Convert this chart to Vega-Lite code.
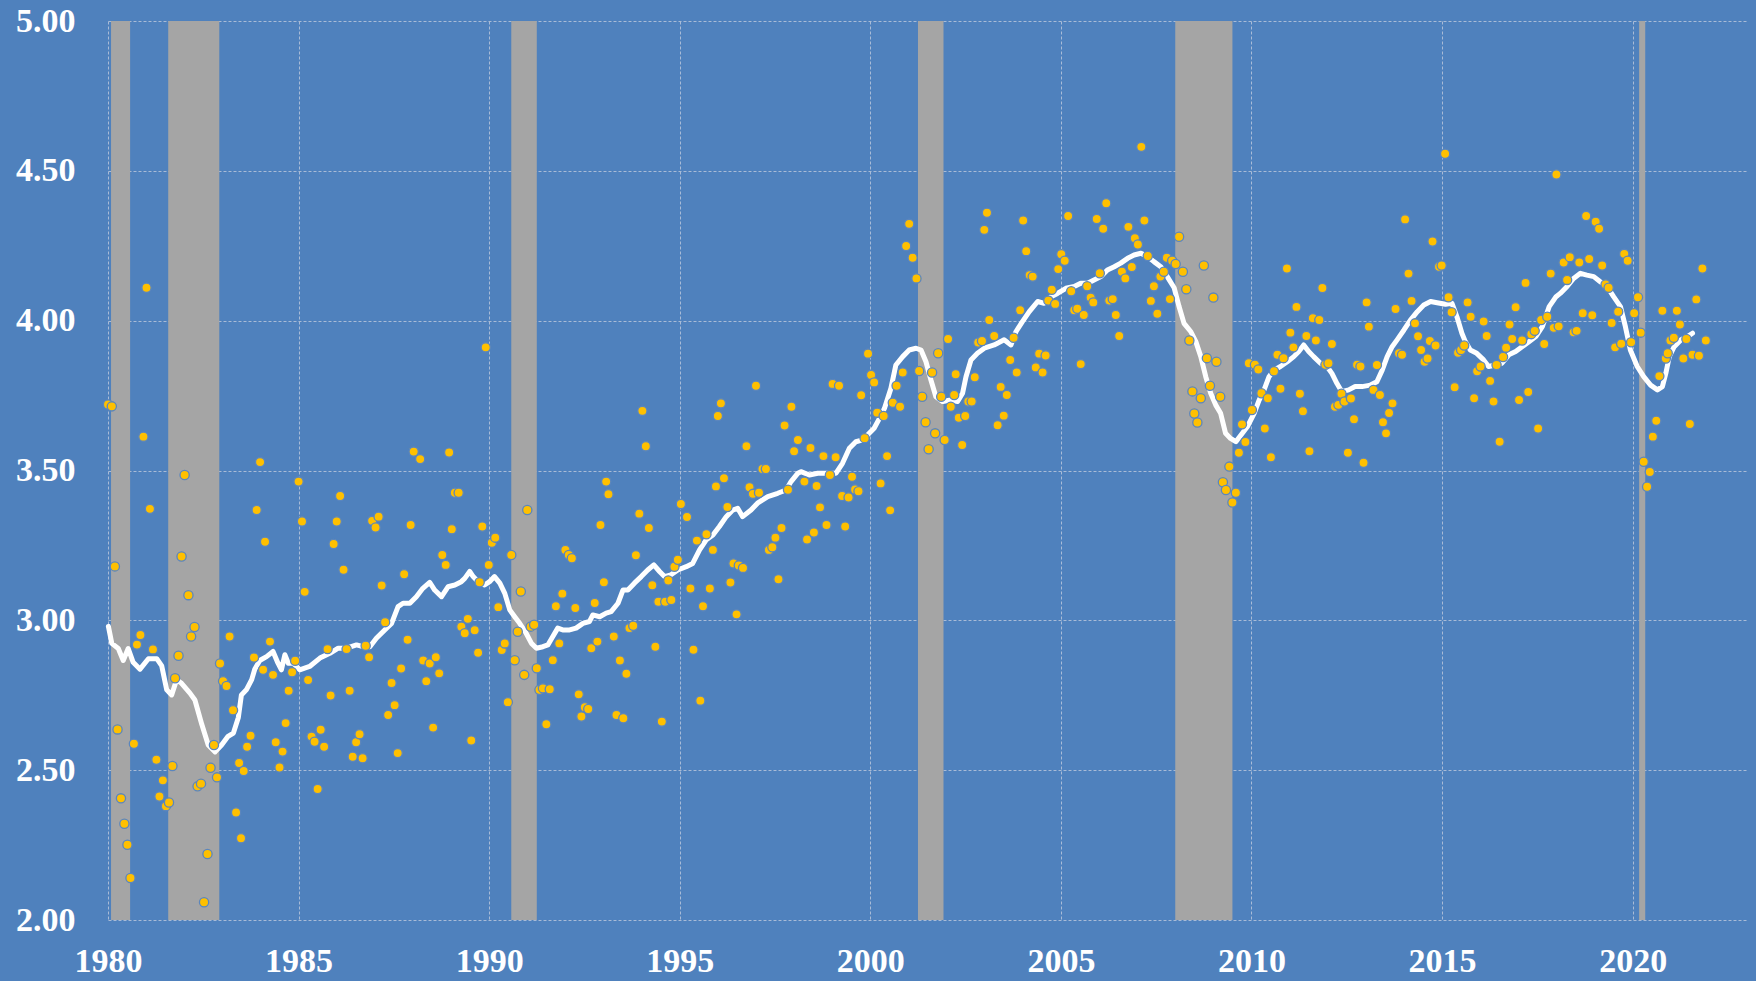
{
"$schema": "https://vega.github.io/schema/vega-lite/v6.json",
"width": 1639, "height": 899,
"autosize": {"type": "none"},
"padding": {"left": 108, "top": 21, "right": 9, "bottom": 61},
"background": "#4F81BD",
"config": {"view": {"stroke": null, "fill": "#4F81BD"}},
"datasets": {
"bands": [{"s":1980.08,"e":1980.58},{"s":1981.58,"e":1982.92},{"s":1990.58,"e":1991.25},{"s":2001.25,"e":2001.92},{"s":2008.0,"e":2009.5},{"s":2020.17,"e":2020.33}],
"avg": [
{"t":1980.01,"v":2.98},{"t":1980.1,"v":2.923},{"t":1980.27,"v":2.906},{"t":1980.4,"v":2.866},{"t":1980.53,"v":2.906},{"t":1980.66,"v":2.86},{"t":1980.84,"v":2.837},{"t":1981.06,"v":2.872},{"t":1981.28,"v":2.872},{"t":1981.41,"v":2.848},{"t":1981.54,"v":2.768},{"t":1981.67,"v":2.751},{"t":1981.8,"v":2.802},{"t":1981.93,"v":2.79},{"t":1982.15,"v":2.757},{"t":1982.28,"v":2.734},{"t":1982.46,"v":2.653},{"t":1982.63,"v":2.584},{"t":1982.81,"v":2.561},{"t":1982.98,"v":2.584},{"t":1983.15,"v":2.613},{"t":1983.29,"v":2.624},{"t":1983.42,"v":2.676},{"t":1983.5,"v":2.751},{"t":1983.63,"v":2.768},{"t":1983.77,"v":2.802},{"t":1983.85,"v":2.837},{"t":1983.98,"v":2.866},
{"t":1984.16,"v":2.879},{"t":1984.33,"v":2.896},{"t":1984.46,"v":2.857},{"t":1984.55,"v":2.835},{"t":1984.64,"v":2.885},{"t":1984.73,"v":2.857},{"t":1984.86,"v":2.857},{"t":1985.03,"v":2.835},{"t":1985.29,"v":2.846},{"t":1985.56,"v":2.874},{"t":1985.82,"v":2.89},{"t":1986.04,"v":2.907},{"t":1986.26,"v":2.907},{"t":1986.52,"v":2.918},{"t":1986.69,"v":2.912},{"t":1986.87,"v":2.912},{"t":1987.04,"v":2.94},{"t":1987.26,"v":2.968},{"t":1987.44,"v":2.99},{"t":1987.61,"v":3.046},{"t":1987.74,"v":3.057},{"t":1987.92,"v":3.057},{"t":1988.09,"v":3.079},{"t":1988.26,"v":3.107},{"t":1988.44,"v":3.127},{"t":1988.57,"v":3.101},{"t":1988.75,"v":3.079},{"t":1988.92,"v":3.112},{"t":1989.1,"v":3.118},{"t":1989.27,"v":3.129},{"t":1989.36,"v":3.14},{"t":1989.49,"v":3.163},{"t":1989.58,"v":3.146},{"t":1989.71,"v":3.129},{"t":1989.88,"v":3.118},{"t":1990.01,"v":3.129},{"t":1990.14,"v":3.146},{"t":1990.28,"v":3.124},{"t":1990.41,"v":3.09},{"t":1990.54,"v":3.035},{"t":1990.67,"v":3.012},{"t":1990.8,"v":2.99},{"t":1990.97,"v":2.957},{"t":1991.11,"v":2.923},{"t":1991.24,"v":2.907},{"t":1991.41,"v":2.912},{"t":1991.54,"v":2.918},{"t":1991.67,"v":2.946},{"t":1991.8,"v":2.974},{"t":1991.93,"v":2.968},{"t":1992.11,"v":2.968},{"t":1992.28,"v":2.974},{"t":1992.46,"v":2.99},{"t":1992.63,"v":2.996},{"t":1992.72,"v":3.018},{"t":1992.9,"v":3.012},{"t":1993.07,"v":3.024},
{"t":1993.2,"v":3.029},{"t":1993.38,"v":3.057},{"t":1993.51,"v":3.101},{"t":1993.64,"v":3.101},{"t":1993.81,"v":3.124},{"t":1993.99,"v":3.146},{"t":1994.16,"v":3.168},{"t":1994.32,"v":3.185},{"t":1994.47,"v":3.163},{"t":1994.6,"v":3.146},{"t":1994.77,"v":3.152},{"t":1994.95,"v":3.168},{"t":1995.17,"v":3.179},{"t":1995.34,"v":3.19},{"t":1995.52,"v":3.235},{"t":1995.69,"v":3.268},{"t":1995.87,"v":3.285},{"t":1996.04,"v":3.313},{"t":1996.22,"v":3.346},{"t":1996.39,"v":3.368},{"t":1996.52,"v":3.374},{"t":1996.65,"v":3.346},{"t":1996.87,"v":3.368},{"t":1997.04,"v":3.391},{"t":1997.31,"v":3.413},{"t":1997.57,"v":3.424},{"t":1997.79,"v":3.435},{"t":1997.92,"v":3.463},{"t":1998.1,"v":3.491},
{"t":1998.18,"v":3.496},{"t":1998.4,"v":3.485},{"t":1998.62,"v":3.491},{"t":1998.88,"v":3.491},{"t":1999.1,"v":3.491},{"t":1999.27,"v":3.524},{"t":1999.45,"v":3.574},{"t":1999.62,"v":3.596},{"t":1999.8,"v":3.602},{"t":1999.97,"v":3.624},{"t":2000.1,"v":3.641},{"t":2000.24,"v":3.674},{"t":2000.37,"v":3.707},{"t":2000.54,"v":3.774},{"t":2000.67,"v":3.852},{"t":2000.85,"v":3.88},{"t":2001.02,"v":3.902},{"t":2001.2,"v":3.908},{"t":2001.33,"v":3.902},{"t":2001.46,"v":3.863},{"t":2001.59,"v":3.802},{"t":2001.72,"v":3.746},{"t":2001.9,"v":3.73},{"t":2002.11,"v":3.735},{"t":2002.29,"v":3.73},{"t":2002.42,"v":3.758},{"t":2002.51,"v":3.813},{"t":2002.64,"v":3.869},{"t":2002.81,"v":3.891},{"t":2002.99,"v":3.908},
{"t":2003.25,"v":3.919},{"t":2003.51,"v":3.936},{"t":2003.69,"v":3.919},{"t":2003.82,"v":3.963},{"t":2003.99,"v":3.997},{"t":2004.17,"v":4.03},{"t":2004.39,"v":4.064},{"t":2004.56,"v":4.058},{"t":2004.74,"v":4.08},{"t":2004.91,"v":4.091},{"t":2005.13,"v":4.108},{"t":2005.35,"v":4.114},{"t":2005.52,"v":4.125},{"t":2005.7,"v":4.125},{"t":2005.87,"v":4.136},{"t":2006.05,"v":4.147},{"t":2006.22,"v":4.169},{"t":2006.4,"v":4.18},{"t":2006.57,"v":4.192},{"t":2006.75,"v":4.208},{"t":2006.92,"v":4.219},{"t":2007.1,"v":4.225},{"t":2007.27,"v":4.214},{"t":2007.44,"v":4.197},{"t":2007.62,"v":4.18},{"t":2007.79,"v":4.147},{"t":2007.97,"v":4.11},
{"t":2008.1,"v":4.047},{"t":2008.23,"v":3.991},{"t":2008.41,"v":3.963},{"t":2008.54,"v":3.93},{"t":2008.67,"v":3.88},{"t":2008.8,"v":3.813},{"t":2008.93,"v":3.758},{"t":2009.06,"v":3.719},{"t":2009.19,"v":3.691},{"t":2009.32,"v":3.624},{"t":2009.45,"v":3.607},{"t":2009.59,"v":3.596},{"t":2009.72,"v":3.618},{"t":2009.89,"v":3.646},{"t":2010.07,"v":3.691},{"t":2010.2,"v":3.735},{"t":2010.33,"v":3.769},{"t":2010.46,"v":3.813},{"t":2010.59,"v":3.835},{"t":2010.76,"v":3.847},{"t":2010.94,"v":3.863},{"t":2011.11,"v":3.88},{"t":2011.24,"v":3.897},{"t":2011.37,"v":3.919},{"t":2011.5,"v":3.897},{"t":2011.63,"v":3.88},{"t":2011.81,"v":3.858},{"t":2011.98,"v":3.847},{"t":2012.11,"v":3.824},{"t":2012.24,"v":3.791},{"t":2012.37,"v":3.763},{"t":2012.55,"v":3.769},{"t":2012.72,"v":3.78},{"t":2012.9,"v":3.78},
{"t":2013.12,"v":3.785},{"t":2013.29,"v":3.796},{"t":2013.43,"v":3.835},{"t":2013.56,"v":3.88},{"t":2013.69,"v":3.913},{"t":2013.82,"v":3.936},{"t":2014.0,"v":3.969},{"t":2014.17,"v":4.002},{"t":2014.35,"v":4.03},{"t":2014.52,"v":4.052},{"t":2014.7,"v":4.064},{"t":2014.87,"v":4.06},{"t":2015.09,"v":4.055},{"t":2015.26,"v":4.058},{"t":2015.39,"v":4.013},{"t":2015.52,"v":3.958},{"t":2015.61,"v":3.93},{"t":2015.74,"v":3.902},{"t":2015.91,"v":3.891},{"t":2016.09,"v":3.869},{"t":2016.22,"v":3.847},{"t":2016.4,"v":3.852},{"t":2016.57,"v":3.858},{"t":2016.75,"v":3.886},{"t":2016.93,"v":3.897},{"t":2017.1,"v":3.913},{"t":2017.28,"v":3.93},{"t":2017.46,"v":3.947},{"t":2017.63,"v":3.98},{"t":2017.81,"v":4.047},{"t":2017.99,"v":4.08},
{"t":2018.1,"v":4.091},{"t":2018.28,"v":4.114},{"t":2018.45,"v":4.141},{"t":2018.63,"v":4.158},{"t":2018.8,"v":4.152},{"t":2018.98,"v":4.147},{"t":2019.15,"v":4.13},{"t":2019.33,"v":4.114},{"t":2019.5,"v":4.08},{"t":2019.68,"v":4.047},{"t":2019.81,"v":3.98},{"t":2019.94,"v":3.902},{"t":2020.12,"v":3.847},{"t":2020.29,"v":3.813},{"t":2020.47,"v":3.785},{"t":2020.65,"v":3.769},{"t":2020.78,"v":3.78},{"t":2020.87,"v":3.824},{"t":2020.96,"v":3.88},{"t":2021.09,"v":3.913},{"t":2021.27,"v":3.936},{"t":2021.44,"v":3.947},{"t":2021.57,"v":3.958}
],
"dots": [
{"t":1980.0,"v":3.72},{"t":1980.1,"v":3.714},{"t":1980.18,"v":3.18},{"t":1980.25,"v":2.636},{"t":1980.34,"v":2.406},{"t":1980.43,"v":2.321},{"t":1980.51,"v":2.251},{"t":1980.59,"v":2.14},{"t":1980.68,"v":2.588},{"t":1980.76,"v":2.919},{"t":1980.85,"v":2.951},{"t":1980.93,"v":3.613},{"t":1981.01,"v":4.11},{"t":1981.1,"v":3.372},{"t":1981.18,"v":2.903},{"t":1981.27,"v":2.535},{"t":1981.35,"v":2.412},{"t":1981.44,"v":2.466},{"t":1981.52,"v":2.38},{"t":1981.6,"v":2.392},{"t":1981.69,"v":2.514},{"t":1981.76,"v":2.807},{"t":1981.85,"v":2.882},{"t":1981.93,"v":3.213},{"t":1982.01,"v":3.485},{"t":1982.11,"v":3.084},{"t":1982.18,"v":2.946},{"t":1982.27,"v":2.978},{"t":1982.35,"v":2.446},{"t":1982.44,"v":2.455},{"t":1982.52,"v":2.059},{"t":1982.61,"v":2.22},{"t":1982.69,"v":2.508},{"t":1982.78,"v":2.584},{"t":1982.86,"v":2.476},{"t":1982.94,"v":2.856},{"t":1983.02,"v":2.797},{"t":1983.11,"v":2.781},{"t":1983.19,"v":2.946},{"t":1983.28,"v":2.7},{"t":1983.36,"v":2.359},{"t":1983.44,"v":2.524},{"t":1983.49,"v":2.273},{"t":1983.56,"v":2.497},{"t":1983.65,"v":2.578},{"t":1983.74,"v":2.615},{"t":1983.83,"v":2.876},{"t":1983.9,"v":3.368},{"t":1983.99,"v":3.528},{"t":1984.07,"v":2.835},{"t":1984.12,"v":3.262},
{"t":1984.25,"v":2.929},{"t":1984.33,"v":2.818},{"t":1984.4,"v":2.593},{"t":1984.5,"v":2.509},{"t":1984.58,"v":2.562},{"t":1984.66,"v":2.657},{"t":1984.74,"v":2.765},{"t":1984.83,"v":2.827},{"t":1984.91,"v":2.865},{"t":1985.0,"v":3.463},{"t":1985.09,"v":3.33},{"t":1985.16,"v":3.095},{"t":1985.25,"v":2.801},{"t":1985.34,"v":2.612},{"t":1985.42,"v":2.595},{"t":1985.5,"v":2.437},{"t":1985.58,"v":2.635},{"t":1985.67,"v":2.578},{"t":1985.76,"v":2.904},{"t":1985.84,"v":2.749},{"t":1985.92,"v":3.255},{"t":1986.0,"v":3.33},{"t":1986.09,"v":3.415},{"t":1986.18,"v":3.169},{"t":1986.26,"v":2.904},{"t":1986.34,"v":2.765},{"t":1986.42,"v":2.545},{"t":1986.51,"v":2.593},{"t":1986.6,"v":2.62},{"t":1986.68,"v":2.54},{"t":1986.76,"v":2.915},{"t":1986.85,"v":2.877},{"t":1986.93,"v":3.332},{"t":1987.02,"v":3.31},{"t":1987.1,"v":3.346},{"t":1987.18,"v":3.116},{"t":1987.27,"v":2.994},{"t":1987.35,"v":2.684},{"t":1987.44,"v":2.791},{"t":1987.52,"v":2.717},{"t":1987.6,"v":2.557},{"t":1987.69,"v":2.839},{"t":1987.77,"v":3.154},{"t":1987.86,"v":2.935},{"t":1987.94,"v":3.318},{"t":1988.02,"v":3.563},{"t":1988.19,"v":3.538},{"t":1988.27,"v":2.866},{"t":1988.35,"v":2.797},{"t":1988.44,"v":2.856},{"t":1988.53,"v":2.642},{"t":1988.6,"v":2.877},{"t":1988.69,"v":2.823},{"t":1988.77,"v":3.218},{"t":1988.86,"v":3.185},{"t":1988.95,"v":3.56},{"t":1989.02,"v":3.304},{"t":1989.1,"v":3.426},{"t":1989.2,"v":3.426},{"t":1989.27,"v":2.979},{"t":1989.36,"v":2.957},{"t":1989.44,"v":3.005},{"t":1989.53,"v":2.599},{"t":1989.62,"v":2.967},{"t":1989.71,"v":2.892},{"t":1989.75,"v":3.127},{"t":1989.82,"v":3.313},{"t":1989.91,"v":3.911},{"t":1989.99,"v":3.185},{"t":1990.07,"v":3.259},{"t":1990.16,"v":3.276},{"t":1990.24,"v":3.044},{"t":1990.33,"v":2.901},{"t":1990.41,"v":2.923},{"t":1990.49,"v":2.727},{"t":1990.58,"v":3.218},{"t":1990.67,"v":2.867},{"t":1990.75,"v":2.962},{"t":1990.83,"v":3.096},{"t":1990.92,"v":2.818},{"t":1991.0,"v":3.368},{"t":1991.09,"v":2.979},{"t":1991.18,"v":2.985},{"t":1991.25,"v":2.84},{"t":1991.32,"v":2.768},{"t":1991.41,"v":2.773},{"t":1991.5,"v":2.653},{"t":1991.59,"v":2.77},{"t":1991.67,"v":2.867},{"t":1991.75,"v":3.047},{"t":1991.84,"v":2.923},{"t":1991.92,"v":3.089},{"t":1992.0,"v":3.235},{"t":1992.09,"v":3.218},{"t":1992.17,"v":3.207},{"t":1992.26,"v":3.041},{"t":1992.35,"v":2.753},{"t":1992.42,"v":2.679},{"t":1992.51,"v":2.71},{"t":1992.6,"v":2.704},{"t":1992.68,"v":2.907},{"t":1992.77,"v":3.058},{"t":1992.84,"v":2.929},{"t":1992.92,"v":3.318},{"t":1993.01,"v":3.127},{"t":1993.07,"v":3.463},{"t":1993.13,"v":3.421},
{"t":1993.27,"v":2.946},{"t":1993.34,"v":2.684},{"t":1993.43,"v":2.866},{"t":1993.52,"v":2.673},{"t":1993.6,"v":2.822},{"t":1993.68,"v":2.974},{"t":1993.78,"v":2.982},{"t":1993.85,"v":3.217},{"t":1993.94,"v":3.356},{"t":1994.02,"v":3.699},{"t":1994.11,"v":3.581},{"t":1994.19,"v":3.308},{"t":1994.28,"v":3.117},{"t":1994.36,"v":2.912},{"t":1994.44,"v":3.062},{"t":1994.53,"v":2.662},{"t":1994.62,"v":3.062},{"t":1994.7,"v":3.133},{"t":1994.78,"v":3.068},{"t":1994.86,"v":3.179},{"t":1994.95,"v":3.202},{"t":1995.03,"v":3.388},{"t":1995.19,"v":3.345},{"t":1995.28,"v":3.106},{"t":1995.36,"v":2.902},{"t":1995.45,"v":3.266},{"t":1995.54,"v":2.732},{"t":1995.61,"v":3.047},{"t":1995.7,"v":3.287},{"t":1995.79,"v":3.106},{"t":1995.87,"v":3.235},{"t":1995.95,"v":3.447},{"t":1996.0,"v":3.682},{"t":1996.08,"v":3.724},{"t":1996.16,"v":3.474},{"t":1996.25,"v":3.378},{"t":1996.33,"v":3.126},{"t":1996.41,"v":3.19},{"t":1996.49,"v":3.02},{"t":1996.55,"v":3.183},{"t":1996.66,"v":3.175},{"t":1996.75,"v":3.581},{"t":1996.83,"v":3.444},{"t":1996.92,"v":3.422},{"t":1997.0,"v":3.783},{"t":1997.08,"v":3.426},{"t":1997.17,"v":3.505},{"t":1997.26,"v":3.505},{"t":1997.34,"v":3.235},{"t":1997.43,"v":3.244},{"t":1997.51,"v":3.276},{"t":1997.59,"v":3.137},{"t":1997.67,"v":3.308},{"t":1997.75,"v":3.65},{"t":1997.84,"v":3.436},{"t":1997.93,"v":3.713},{"t":1998.0,"v":3.564},{"t":1998.1,"v":3.602},
{"t":1998.27,"v":3.463},{"t":1998.34,"v":3.27},{"t":1998.43,"v":3.575},{"t":1998.52,"v":3.293},{"t":1998.59,"v":3.448},{"t":1998.68,"v":3.377},{"t":1998.77,"v":3.548},{"t":1998.85,"v":3.318},{"t":1998.94,"v":3.485},{"t":1999.01,"v":3.789},{"t":1999.09,"v":3.544},{"t":1999.18,"v":3.783},{"t":1999.26,"v":3.415},{"t":1999.34,"v":3.313},{"t":1999.43,"v":3.41},{"t":1999.52,"v":3.479},{"t":1999.6,"v":3.437},{"t":1999.69,"v":3.431},{"t":1999.76,"v":3.751},{"t":1999.85,"v":3.608},{"t":1999.94,"v":3.89},{"t":2000.02,"v":3.819},{"t":2000.1,"v":3.794},{"t":2000.18,"v":3.693},{"t":2000.27,"v":3.457},{"t":2000.35,"v":3.682},{"t":2000.44,"v":3.548},{"t":2000.52,"v":3.367},{"t":2000.59,"v":3.726},{"t":2000.69,"v":3.783},{"t":2000.78,"v":3.713},{"t":2000.85,"v":3.827},{"t":2000.94,"v":4.249},{"t":2001.02,"v":4.323},{"t":2001.11,"v":4.21},{"t":2001.21,"v":4.141},{"t":2001.28,"v":3.832},{"t":2001.36,"v":3.746},{"t":2001.45,"v":3.661},{"t":2001.53,"v":3.571},{"t":2001.62,"v":3.827},{"t":2001.7,"v":3.624},{"t":2001.78,"v":3.891},{"t":2001.86,"v":3.746},{"t":2001.95,"v":3.602},{"t":2002.04,"v":3.939},{"t":2002.11,"v":3.713},{"t":2002.2,"v":3.752},{"t":2002.24,"v":3.821},{"t":2002.32,"v":3.676},{"t":2002.41,"v":3.585},{"t":2002.49,"v":3.682},{"t":2002.57,"v":3.73},{"t":2002.66,"v":3.73},{"t":2002.74,"v":3.811},{"t":2002.83,"v":3.927},{"t":2002.93,"v":3.932},{"t":2002.99,"v":4.303},{"t":2003.06,"v":4.36},{"t":2003.12,"v":4.002},
{"t":2003.25,"v":3.949},{"t":2003.34,"v":3.651},{"t":2003.42,"v":3.779},{"t":2003.5,"v":3.683},{"t":2003.58,"v":3.752},{"t":2003.67,"v":3.869},{"t":2003.76,"v":3.943},{"t":2003.84,"v":3.827},{"t":2003.93,"v":4.035},{"t":2004.01,"v":4.334},{"t":2004.09,"v":4.232},{"t":2004.18,"v":4.152},{"t":2004.26,"v":4.147},{"t":2004.34,"v":3.844},{"t":2004.43,"v":3.89},{"t":2004.52,"v":3.827},{"t":2004.6,"v":3.884},{"t":2004.67,"v":4.067},{"t":2004.76,"v":4.103},{"t":2004.85,"v":4.056},{"t":2004.93,"v":4.172},{"t":2005.01,"v":4.222},{"t":2005.1,"v":4.2},{"t":2005.19,"v":4.349},{"t":2005.27,"v":4.098},{"t":2005.35,"v":4.035},{"t":2005.43,"v":4.04},{"t":2005.52,"v":3.855},{"t":2005.6,"v":4.019},{"t":2005.69,"v":4.115},{"t":2005.78,"v":4.077},{"t":2005.85,"v":4.061},{"t":2005.94,"v":4.339},{"t":2006.02,"v":4.158},{"t":2006.11,"v":4.307},{"t":2006.19,"v":4.392},{"t":2006.27,"v":4.067},{"t":2006.36,"v":4.072},{"t":2006.44,"v":4.019},{"t":2006.53,"v":3.949},{"t":2006.6,"v":4.163},{"t":2006.69,"v":4.141},{"t":2006.77,"v":4.313},{"t":2006.86,"v":4.179},{"t":2006.94,"v":4.275},{"t":2007.02,"v":4.254},{"t":2007.11,"v":4.58},{"t":2007.19,"v":4.334},{"t":2007.28,"v":4.216},{"t":2007.36,"v":4.066},{"t":2007.44,"v":4.115},{"t":2007.53,"v":4.023},{"t":2007.61,"v":4.147},{"t":2007.7,"v":4.163},{"t":2007.78,"v":4.21},{"t":2007.86,"v":4.072},{"t":2007.92,"v":4.2},{"t":2008.01,"v":4.189},{"t":2008.1,"v":4.28},
{"t":2008.2,"v":4.163},{"t":2008.29,"v":4.105},{"t":2008.37,"v":3.934},{"t":2008.45,"v":3.764},{"t":2008.5,"v":3.69},{"t":2008.58,"v":3.66},{"t":2008.67,"v":3.741},{"t":2008.75,"v":4.184},{"t":2008.83,"v":3.875},{"t":2008.91,"v":3.783},{"t":2009.0,"v":4.077},{"t":2009.08,"v":3.863},{"t":2009.18,"v":3.746},{"t":2009.25,"v":3.461},{"t":2009.33,"v":3.435},{"t":2009.42,"v":3.513},{"t":2009.5,"v":3.393},{"t":2009.59,"v":3.426},{"t":2009.67,"v":3.559},{"t":2009.75,"v":3.654},{"t":2009.84,"v":3.595},{"t":2009.93,"v":3.858},{"t":2010.01,"v":3.702},{"t":2010.09,"v":3.853},{"t":2010.18,"v":3.837},{"t":2010.26,"v":3.758},{"t":2010.35,"v":3.64},{"t":2010.43,"v":3.741},{"t":2010.51,"v":3.544},{"t":2010.59,"v":3.831},{"t":2010.68,"v":3.886},{"t":2010.76,"v":3.773},{"t":2010.84,"v":3.875},{"t":2010.93,"v":4.174},{"t":2011.02,"v":3.96},{"t":2011.1,"v":3.911},{"t":2011.18,"v":4.046},{"t":2011.27,"v":3.756},{"t":2011.35,"v":3.698},{"t":2011.44,"v":3.949},{"t":2011.52,"v":3.564},{"t":2011.61,"v":4.008},{"t":2011.69,"v":3.934},{"t":2011.78,"v":4.002},{"t":2011.86,"v":4.109},{"t":2011.94,"v":3.853},{"t":2012.02,"v":3.858},{"t":2012.11,"v":3.922},{"t":2012.19,"v":3.713},{"t":2012.28,"v":3.719},{"t":2012.36,"v":3.756},{"t":2012.44,"v":3.73},{"t":2012.53,"v":3.559},{"t":2012.61,"v":3.74},{"t":2012.69,"v":3.671},{"t":2012.77,"v":3.853},{"t":2012.86,"v":3.847},{"t":2012.94,"v":3.526},{"t":2013.02,"v":4.061},{"t":2013.08,"v":3.98},
{"t":2013.2,"v":3.769},{"t":2013.29,"v":3.852},{"t":2013.37,"v":3.752},{"t":2013.45,"v":3.661},{"t":2013.53,"v":3.624},{"t":2013.61,"v":3.692},{"t":2013.7,"v":3.724},{"t":2013.78,"v":4.039},{"t":2013.87,"v":3.891},{"t":2013.95,"v":3.886},{"t":2014.03,"v":4.338},{"t":2014.12,"v":4.157},{"t":2014.2,"v":4.066},{"t":2014.29,"v":3.991},{"t":2014.37,"v":3.948},{"t":2014.45,"v":3.902},{"t":2014.54,"v":3.863},{"t":2014.62,"v":3.874},{"t":2014.68,"v":3.932},{"t":2014.75,"v":4.264},{"t":2014.83,"v":3.917},{"t":2014.92,"v":4.18},{"t":2014.99,"v":4.184},{"t":2015.08,"v":4.557},{"t":2015.17,"v":4.078},{"t":2015.25,"v":4.028},{"t":2015.33,"v":3.778},{"t":2015.42,"v":3.893},{"t":2015.5,"v":3.902},{"t":2015.58,"v":3.917},{"t":2015.67,"v":4.061},{"t":2015.75,"v":4.013},{"t":2015.84,"v":3.741},{"t":2015.92,"v":3.831},{"t":2016.01,"v":3.847},{"t":2016.09,"v":3.997},{"t":2016.17,"v":3.949},{"t":2016.26,"v":3.799},{"t":2016.35,"v":3.73},{"t":2016.43,"v":3.852},{"t":2016.51,"v":3.596},{"t":2016.6,"v":3.879},{"t":2016.68,"v":3.91},{"t":2016.77,"v":3.987},{"t":2016.84,"v":3.939},{"t":2016.93,"v":4.045},{"t":2017.02,"v":3.735},{"t":2017.1,"v":3.934},{"t":2017.19,"v":4.126},{"t":2017.26,"v":3.762},{"t":2017.34,"v":3.955},{"t":2017.43,"v":3.966},{"t":2017.52,"v":3.64},{"t":2017.6,"v":4.002},{"t":2017.68,"v":3.922},{"t":2017.76,"v":4.013},{"t":2017.85,"v":4.157},{"t":2017.93,"v":3.976},{"t":2018.0,"v":4.488},{"t":2018.06,"v":3.981},
{"t":2018.19,"v":4.194},{"t":2018.28,"v":4.136},{"t":2018.35,"v":4.212},{"t":2018.45,"v":3.961},{"t":2018.53,"v":3.966},{"t":2018.6,"v":4.194},{"t":2018.69,"v":4.025},{"t":2018.78,"v":4.349},{"t":2018.86,"v":4.206},{"t":2018.94,"v":4.018},{"t":2019.03,"v":4.33},{"t":2019.12,"v":4.307},{"t":2019.2,"v":4.184},{"t":2019.29,"v":4.121},{"t":2019.37,"v":4.11},{"t":2019.45,"v":3.992},{"t":2019.54,"v":3.911},{"t":2019.62,"v":4.03},{"t":2019.7,"v":3.923},{"t":2019.78,"v":4.223},{"t":2019.87,"v":4.2},{"t":2019.96,"v":3.928},{"t":2020.04,"v":4.025},{"t":2020.14,"v":4.078},{"t":2020.21,"v":3.96},{"t":2020.29,"v":3.529},{"t":2020.38,"v":3.446},{"t":2020.45,"v":3.495},{"t":2020.53,"v":3.613},{"t":2020.62,"v":3.666},{"t":2020.7,"v":3.815},{"t":2020.78,"v":4.033},{"t":2020.87,"v":3.874},{"t":2020.92,"v":3.891},{"t":2020.99,"v":3.934},{"t":2021.08,"v":3.943},{"t":2021.16,"v":4.033},{"t":2021.24,"v":3.987},{"t":2021.33,"v":3.874},{"t":2021.41,"v":3.939},{"t":2021.5,"v":3.655},{"t":2021.57,"v":3.886},{"t":2021.67,"v":4.071},{"t":2021.74,"v":3.883},{"t":2021.83,"v":4.174},{"t":2021.92,"v":3.934}
]
},
"layer": [
{"data": {"name": "bands"},
 "mark": {"type": "rect", "color": "#A5A5A5"},
 "encoding": {
  "x": {"field": "s", "type": "quantitative", "scale": {"domain": [1980, 2023], "nice": false, "zero": false},
        "axis": {"values": [1980,1985,1990,1995,2000,2005,2010,2015,2020], "format": "d", "title": null, "grid": true, "gridColor": "#A9BBD6", "gridDash": [3,2], "gridWidth": 1, "domain": false, "ticks": false, "labelFont": "Liberation Serif", "labelFontSize": 34, "labelFontWeight": "bold", "labelColor": "white", "labelPadding": 24, "labelFlush": false}},
  "x2": {"field": "e"},
  "y": {"datum": 2, "type": "quantitative", "scale": {"domain": [2, 5], "nice": false, "zero": false},
        "axis": {"values": [2,2.5,3,3.5,4,4.5,5], "format": ".2f", "title": null, "grid": true, "gridColor": "#A9BBD6", "gridDash": [3,2], "gridWidth": 1, "domain": false, "ticks": false, "labelFont": "Liberation Serif", "labelFontSize": 34, "labelFontWeight": "bold", "labelColor": "white", "labelPadding": 33}},
  "y2": {"datum": 5}
 }},
{"data": {"name": "avg"},
 "mark": {"type": "line", "color": "white", "strokeWidth": 5, "strokeJoin": "round", "strokeCap": "round"},
 "encoding": {"x": {"field": "t", "type": "quantitative"}, "y": {"field": "v", "type": "quantitative"}}},
{"data": {"name": "dots"},
 "mark": {"type": "point", "shape": "circle", "filled": true, "size": 85, "fill": "#FFC000", "stroke": "#5B86BE", "strokeWidth": 1.3, "opacity": 1, "fillOpacity": 1, "strokeOpacity": 1},
 "encoding": {"x": {"field": "t", "type": "quantitative"}, "y": {"field": "v", "type": "quantitative"}}}
]
}
